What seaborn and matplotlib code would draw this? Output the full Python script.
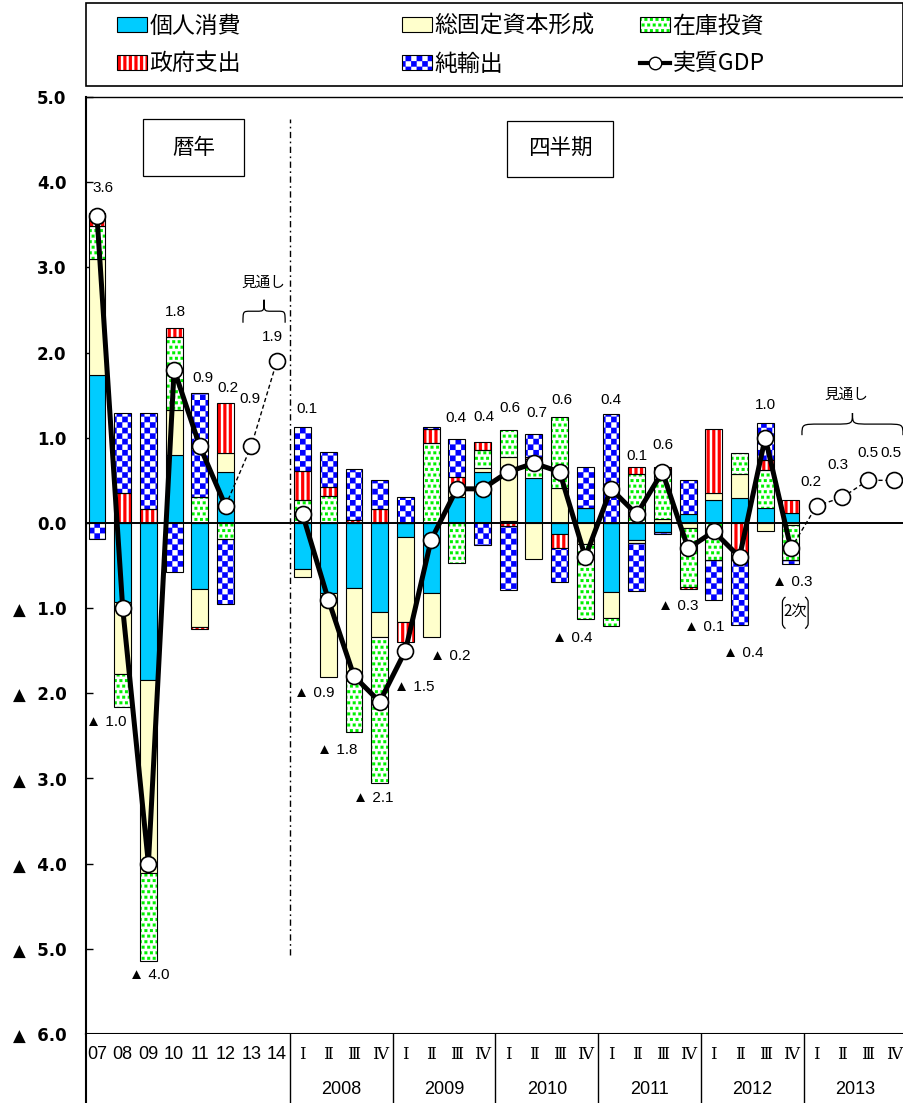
import numpy as np
import pandas as pd
import matplotlib
matplotlib.use("Agg")
import matplotlib.pyplot as plt
import seaborn as sns
from matplotlib import hatch as mhatch
from matplotlib.path import Path
from matplotlib.patches import PathPatch, Rectangle, Patch
from matplotlib.lines import Line2D
from matplotlib.legend_handler import HandlerTuple
from matplotlib.font_manager import FontProperties

# ---------------------------------------------------------------- data
annual_labels = ["07", "08", "09", "10", "11", "12", "13", "14"]
quarter_years = ["2008", "2009", "2010", "2011", "2012", "2013"]
quarter_names = ["Ⅰ", "Ⅱ", "Ⅲ", "Ⅳ"]

bar_periods = ["07", "08", "09", "10", "11", "12",
               "2008Q1", "2008Q2", "2008Q3", "2008Q4",
               "2009Q1", "2009Q2", "2009Q3", "2009Q4",
               "2010Q1", "2010Q2", "2010Q3", "2010Q4",
               "2011Q1", "2011Q2", "2011Q3", "2011Q4",
               "2012Q1", "2012Q2", "2012Q3", "2012Q4"]

consumption = [1.74, -0.93, -1.85, 0.80, -0.78, 0.60,
               -0.54, -0.82, -0.77, -1.05,
               -0.17, -0.82, 0.30, 0.60,
               0.02, 0.53, -0.13, 0.17,
               -0.81, -0.20, -0.11, 0.11,
               0.27, 0.29, 0.18, 0.12]
fixed_investment = [1.36, -0.84, -2.26, 0.53, -0.44, 0.22,
                    -0.09, -0.99, -1.05, -0.29,
                    -0.99, -0.52, 0.12, 0.05,
                    0.75, -0.42, 0.41, -0.25,
                    -0.31, -0.04, 0.05, -0.06,
                    0.08, 0.28, -0.09, -0.03]
inventory = [0.39, -0.39, -1.03, 0.85, 0.30, -0.19,
             0.27, 0.32, -0.63, -1.71,
             0.00, 0.94, -0.47, 0.21,
             0.32, 0.22, 0.83, -0.88,
             -0.09, 0.57, 0.58, -0.69,
             -0.43, 0.25, 0.44, -0.40]
government = [0.15, 0.35, 0.16, 0.11, -0.02, 0.59,
              0.34, 0.10, 0.03, 0.16,
              -0.24, 0.16, 0.12, 0.09,
              -0.04, 0.02, -0.17, 0.00,
              0.00, 0.09, 0.03, -0.03,
              0.75, -0.43, 0.12, 0.15]
net_exports = [-0.19, 0.94, 1.13, -0.58, 1.23, -0.76,
               0.52, 0.41, 0.60, 0.34,
               0.30, 0.03, 0.44, -0.26,
               -0.75, 0.27, -0.39, 0.49,
               1.28, -0.56, -0.02, 0.39,
               -0.48, -0.77, 0.43, -0.05]

gdp_annual = [3.6, -1.0, -4.0, 1.8, 0.9, 0.2]
gdp_annual_outlook = [0.9, 1.9]
gdp_quarterly = [0.1, -0.9, -1.8, -2.1, -1.5, -0.2, 0.4, 0.4, 0.6, 0.7,
                 0.6, -0.4, 0.4, 0.1, 0.6, -0.3, -0.1, -0.4, 1.0, -0.3]
gdp_quarterly_outlook = [0.2, 0.3, 0.5, 0.5]

series_names = ["個人消費", "総固定資本形成", "在庫投資", "政府支出", "純輸出", "実質GDP"]


# ------------------------------------------------- fill patterns (hatches)
class SquareDots(mhatch.HatchPatternBase):
    """Staggered small filled squares, one row set per '.'"""
    def __init__(self, hatch, density):
        self.n = hatch.count(".") * density
        self.num_vertices = 5 * self.n * self.n

    def set_vertices_and_codes(self, vertices, codes):
        n = self.n
        s = 0.52 / n
        k = 0
        for j in range(n):
            for i in range(n):
                x = (i + 0.5 * (j % 2)) / n
                y = j / n + 0.24 / n
                vertices[k:k + 5] = [(x, y), (x + s, y), (x + s, y + s), (x, y + s), (x, y)]
                codes[k:k + 5] = [Path.MOVETO, Path.LINETO, Path.LINETO, Path.LINETO, Path.CLOSEPOLY]
                k += 5


class Stripes(mhatch.HatchPatternBase):
    """Vertical filled stripes, one set per '|'"""
    def __init__(self, hatch, density):
        self.n = hatch.count("|") * density
        self.num_vertices = 5 * self.n

    def set_vertices_and_codes(self, vertices, codes):
        n = self.n
        w = 0.55 / n
        k = 0
        for i in range(n):
            x = i / n + 0.2 / n
            vertices[k:k + 5] = [(x, 0), (x + w, 0), (x + w, 1), (x, 1), (x, 0)]
            codes[k:k + 5] = [Path.MOVETO, Path.LINETO, Path.LINETO, Path.LINETO, Path.CLOSEPOLY]
            k += 5


class Checker(mhatch.HatchPatternBase):
    """Checkerboard, one set per '*'"""
    def __init__(self, hatch, density):
        self.n = hatch.count("*") * density
        self.num_vertices = 5 * (self.n * self.n // 2)

    def set_vertices_and_codes(self, vertices, codes):
        n = self.n
        s = 1.0 / n
        k = 0
        for j in range(n):
            for i in range(n):
                if (i + j) % 2:
                    continue
                x, y = i * s, j * s
                vertices[k:k + 5] = [(x, y), (x + s, y), (x + s, y + s), (x, y + s), (x, y)]
                codes[k:k + 5] = [Path.MOVETO, Path.LINETO, Path.LINETO, Path.LINETO, Path.CLOSEPOLY]
                k += 5


mhatch._hatch_types[:] = [SquareDots, Stripes, Checker]
plt.rcParams["hatch.linewidth"] = 0.1

plt.rcParams["font.family"] = ["Liberation Sans", "Noto Sans CJK JP", "DejaVu Sans"]
plt.rcParams["axes.unicode_minus"] = False
JP = ["Noto Sans CJK JP", "DejaVu Sans"]
NARROW = ["Liberation Sans Narrow", "Liberation Sans"]

# ---------------------------------------------------------------- figure
fig = plt.figure(figsize=(9.04, 11.03), dpi=100)
ax = fig.add_axes([86 / 904, 69 / 1103, 818 / 904, 937 / 1103])
axt = fig.add_axes([86 / 904, 0, 818 / 904, 69 / 1103])

categories = annual_labels + [f"{y}Q{i + 1}" for y in quarter_years for i in range(4)]
slot = {c: i for i, c in enumerate(categories)}
XLIM = (-0.428, 31.40)

components = [
    (consumption, "#00CCFF", None, None),
    (fixed_investment, "#FFFFCC", None, None),
    (inventory, "white", "...", "#00F000"),
    (government, "white", "|||", "#FF0000"),
    (net_exports, "white", "***", "#0000FF"),
]

BAR_W = 0.66
pos_base = np.zeros(len(bar_periods))
neg_base = np.zeros(len(bar_periods))
legend_handles = []
for vals, face, hatch, pat_color in components:
    v = np.asarray(vals, dtype=float)
    bottom = np.where(v >= 0, pos_base, neg_base)
    common = dict(x=bar_periods, y=v, order=categories, bottom=bottom, width=BAR_W,
                  errorbar=None, ax=ax, saturation=1)
    if pat_color is None:
        sns.barplot(**common, color=face, facecolor=face,
                    edgecolor="black", linewidth=0.8, zorder=2)
        legend_handles.append(Patch(facecolor=face, edgecolor="black", linewidth=0.8))
    else:
        sns.barplot(**common, color=face, facecolor=face, edgecolor=pat_color,
                    hatch=hatch, linewidth=0, zorder=2)
        sns.barplot(**common, color="black", facecolor="none", edgecolor="black",
                    linewidth=0.8, zorder=2.1)
        legend_handles.append((Patch(facecolor=face, edgecolor=pat_color, hatch=hatch, linewidth=0),
                               Patch(facecolor="none", edgecolor="black", linewidth=0.8)))
    pos_base += np.clip(v, 0, None)
    neg_base += np.clip(v, None, 0)

# zero line and the calendar-year / quarterly divider
ax.axhline(0, color="black", lw=1.4, zorder=3)
ax.vlines(7.5, -5.07, 4.74, colors="black", lw=1.0, linestyles=(0, (4.5, 2.5, 1.2, 2.5)), zorder=1)

# ---------------------------------------------------------- real GDP lines
mk = dict(marker="o", markersize=11.5, markerfacecolor="white",
          markeredgecolor="black", markeredgewidth=1.2)

ann_x = [slot[c] for c in annual_labels]
q_keys = [c for c in categories if "Q" in c]
q_x = [slot[c] for c in q_keys]

# outlook (dashed) parts
sns.lineplot(x=ann_x[5:8], y=[gdp_annual[-1]] + gdp_annual_outlook, ax=ax,
             color="black", lw=1.0, linestyle=(0, (3, 2)), zorder=4)
sns.lineplot(x=ann_x[6:8], y=gdp_annual_outlook, ax=ax, color="black",
             linestyle="", zorder=6, **mk)
sns.lineplot(x=q_x[19:24], y=[gdp_quarterly[-1]] + gdp_quarterly_outlook, ax=ax,
             color="black", lw=1.0, linestyle=(0, (3, 2)), zorder=4)
sns.lineplot(x=q_x[20:24], y=gdp_quarterly_outlook, ax=ax, color="black",
             linestyle="", zorder=6, **mk)

# actual values (solid)
sns.lineplot(x=ann_x[:6], y=gdp_annual, ax=ax, color="black", lw=3.6, zorder=5, **mk)
sns.lineplot(x=q_x[:20], y=gdp_quarterly, ax=ax, color="black", lw=3.6, zorder=5, **mk)


def fmt(v, gap=" "):
    return f"{v:.1f}" if v >= 0 else f"▲{gap}{abs(v):.1f}"


ann_offsets = [(6, -28), (-16, 114), (1, 111), (1, -58), (3, -68), (2, -118), (-1, -47), (-4, -24)]
q_offsets = [(4, -105), (-14, 93), (-17, 74), (-6, 96), (9, 36), (19, 116), (-1, -71), (1, -72),
             (2, -64), (3, -50), (2, -72), (-13, 81), (0, -89), (0, -58), (1, -27), (-10, 58),
             (-10, 96), (4, 96), (0, -33), (1, 34), (-6, -24), (-4, -32), (0, -27), (-3, -27)]

for xv, yv, (dx, dy) in zip(ann_x, gdp_annual + gdp_annual_outlook, ann_offsets):
    ax.annotate(fmt(yv), (xv, yv), xytext=(dx, -dy), textcoords="offset pixels",
                ha="center", va="center", fontsize=11, zorder=7)
for xv, yv, (dx, dy) in zip(q_x, gdp_quarterly + gdp_quarterly_outlook, q_offsets):
    ax.annotate(fmt(yv), (xv, yv), xytext=(dx, -dy), textcoords="offset pixels",
                ha="center", va="center", fontsize=11, zorder=7)


# ------------------------------------------------------- braces and notes
def brace(x0, x1, yb, yt):
    xm = (x0 + x1) / 2
    ym = (yb + yt) / 2
    r = (x1 - x0) * 0.18
    verts = [(x0, yb), (x0, ym), (x0, ym), (x0 + r, ym),
             (xm - r, ym),
             (xm, ym), (xm, ym), (xm, yt),
             (xm, ym), (xm, ym), (xm + r, ym),
             (x1 - r, ym),
             (x1, ym), (x1, ym), (x1, yb)]
    codes = [Path.MOVETO, Path.CURVE4, Path.CURVE4, Path.CURVE4,
             Path.LINETO,
             Path.CURVE4, Path.CURVE4, Path.CURVE4,
             Path.CURVE4, Path.CURVE4, Path.CURVE4,
             Path.LINETO,
             Path.CURVE4, Path.CURVE4, Path.CURVE4]
    ax.add_patch(PathPatch(Path(verts, codes), facecolor="none", edgecolor="black", lw=0.9, zorder=4))


brace(5.68, 7.32, 2.35, 2.62)
ax.text(6.46, 2.82, "見通し", ha="center", va="center", fontsize=10.5, family=JP)
brace(27.43, 31.36, 1.03, 1.29)
ax.text(29.14, 1.50, "見通し", ha="center", va="center", fontsize=10.5, family=JP)

# "2次" in tall brackets
ax.text(27.16, -1.045, "2次", ha="center", va="center", fontsize=11, family=JP)
for xl, d in ((26.67, 0.12), (27.67, -0.12)):
    yt, yb = -0.87, -1.24
    verts = [(xl + d, yt), (xl, yt - 0.02), (xl, yt - 0.06), (xl, yb + 0.06), (xl, yb + 0.02), (xl + d, yb)]
    codes = [Path.MOVETO, Path.CURVE3, Path.CURVE3, Path.LINETO, Path.CURVE3, Path.CURVE3]
    ax.add_patch(PathPatch(Path(verts, codes), facecolor="none", edgecolor="black", lw=0.9))

# header boxes
for (x0, x1, y0, y1), label in (((1.79, 5.72, 4.07, 4.74), "暦年"),
                                ((15.95, 20.08, 4.06, 4.72), "四半期")):
    ax.add_patch(Rectangle((x0, y0), x1 - x0, y1 - y0, facecolor="white",
                           edgecolor="black", lw=0.9, zorder=4))
    ax.text((x0 + x1) / 2, (y0 + y1) / 2, label, ha="center", va="center", fontsize=15.5,
            family=JP, zorder=5)

# ---------------------------------------------------------------- axes
ax.set_xlim(*XLIM)
ax.set_ylim(-6, 5)
ax.set_xticks([])
ax.set_xlabel("")
ax.set_ylabel("")
yt_vals = np.arange(-6, 6)
ax.set_yticks(yt_vals)
ax.set_yticklabels([fmt(float(v), gap="  ") if v != 0 else "0.0" for v in yt_vals],
                   family="DejaVu Sans", fontweight="bold", fontsize=12)
ax.tick_params(axis="y", direction="in", length=5, width=1, pad=14)
for side in ("left", "bottom"):
    ax.spines[side].set_linewidth(1.5)
ax.spines["top"].set_linewidth(1.0)
ax.spines["right"].set_visible(False)
ax.grid(False)

# category table below the plot
axt.set_xlim(*XLIM)
axt.set_ylim(0, 1)
axt.set_xticks([])
axt.set_yticks([])
for side in ("top", "right", "bottom"):
    axt.spines[side].set_visible(False)
axt.spines["left"].set_linewidth(1.5)
for b in (7.5, 11.5, 15.5, 19.5, 23.5, 27.5):
    axt.axvline(b, color="black", lw=1.0)
for lab in annual_labels:
    axt.text(slot[lab], 0.70, lab, ha="center", va="center", fontsize=13, family=NARROW)
for y in quarter_years:
    for i, q in enumerate(quarter_names):
        axt.text(slot[f"{y}Q{i + 1}"], 0.70, q, ha="center", va="center",
                 fontsize=12, family="DejaVu Serif")
    axt.text((slot[f"{y}Q1"] + slot[f"{y}Q4"]) / 2, 0.19, y, ha="center", va="center",
             fontsize=13, family=NARROW)

# ---------------------------------------------------------------- legend
gdp_handle = Line2D([], [], color="black", lw=3.0, marker="o", markersize=9,
                    markerfacecolor="white", markeredgecolor="black", markeredgewidth=1.0)
all_handles = legend_handles + [gdp_handle]
columns = [(117, (0, 3)), (402, (1, 4)), (640, (2, 5))]
for xpix, idx in columns:
    fig.legend([all_handles[i] for i in idx], [series_names[i] for i in idx],
               loc="center left", bbox_to_anchor=(xpix / 904, 1 - 45 / 1103),
               frameon=False, borderpad=0, borderaxespad=0, handlelength=1.3,
               handleheight=0.6, handletextpad=0.12, labelspacing=0.65,
               prop=FontProperties(family=JP, size=16.5),
               handler_map={tuple: HandlerTuple(ndivide=1, pad=0)})
fig.add_artist(Rectangle((86 / 904, 1 - 86 / 1103), 817 / 904, 83 / 1103,
                         transform=fig.transFigure, facecolor="none", edgecolor="black", lw=1.2))

fig.savefig("out.png", dpi=100)
